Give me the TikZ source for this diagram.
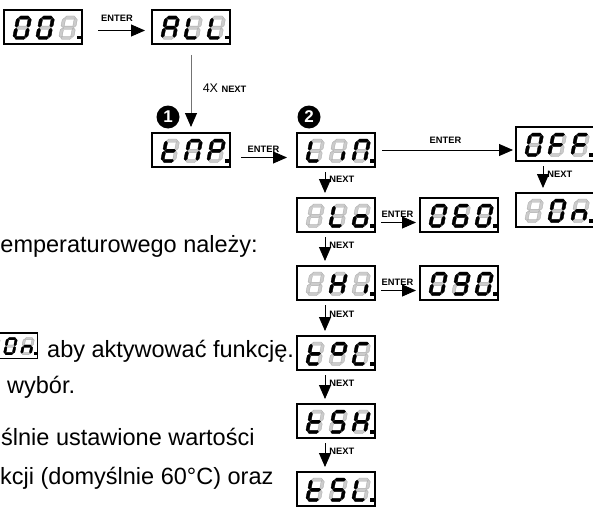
\documentclass[tikz,border=0pt]{standalone}
\usepackage{fontspec}
\setmainfont{Liberation Sans}
\usetikzlibrary{arrows.meta}

\definecolor{segdim}{gray}{0.8}
\definecolor{segrim}{gray}{0.65}

% segments of one digit, y runs down
\newcommand{\hsegpath}[1]{(2.1,#1) -- ++(1.6,-1.6) -- ++(7.6,0) -- ++(1.6,1.6) -- ++(-1.6,1.6) -- ++(-7.6,0) -- cycle}
\newcommand{\vsegpath}[2]{(#1,#2) -- ++(1.6,1.6) -- ++(0,5.95) -- ++(-1.6,1.6) -- ++(-1.6,-1.6) -- ++(0,-5.95) -- cycle}
\def\sega{\hsegpath{1.6}}
\def\segb{\vsegpath{13.4}{2.1}}
\def\segc{\vsegpath{13.4}{12.25}}
\def\segd{\hsegpath{21.9}}
\def\sege{\vsegpath{1.6}{12.25}}
\def\segf{\vsegpath{1.6}{2.1}}
\def\segg{\hsegpath{11.75}}
\def\segx{}

\newcommand{\lcddigit}[2]{%
  \begin{scope}[shift={(#1,6)}, xslant=0.2]
    \foreach \sg in {a,b,c,d,e,f,g}{\expandafter\let\expandafter\lcdseg\csname seg\sg\endcsname \filldraw[seg off] \lcdseg;}
    \foreach \sg in {#2}{\expandafter\let\expandafter\lcdseg\csname seg\sg\endcsname \filldraw[seg on] \lcdseg;}
  \end{scope}}

\newcommand{\lcdbox}[6][1]{%
  \begin{scope}[shift={#3}, scale=#1]
    \node[lcd frame, anchor=north west] (#2) at (0,0) {};
    \lcddigit{13}{#4}
    \lcddigit{36}{#5}
    \lcddigit{59}{#6}
    \fill (73,26) rectangle ++(3.5,3.5);
  \end{scope}}

\begin{document}
\begin{tikzpicture}[x=1pt, y=-1pt,
	lcd frame/.style={draw, line width=1.1pt, minimum width=78pt, minimum height=34pt, inner sep=0pt, outer sep=0pt, transform shape},
	seg off/.style={fill=segdim, draw=segrim, line width=0.3pt},
	seg on/.style={fill=black, draw=black, line width=0.3pt},
	key label/.style={inner sep=1pt, font=\bfseries\fontsize{9.3}{10}\selectfont},
	body text/.style={inner sep=0pt, font=\fontsize{23.5}{28}\selectfont},
	badge/.style={circle, fill=black, text=white, minimum size=23pt, inner sep=0pt, font=\bfseries\fontsize{17}{17}\selectfont},
	enter arrow/.style={line width=0.9pt, -{Triangle[length=14pt, width=12pt]}},
	next arrow/.style={line width=0.9pt, -{Triangle[length=14pt, width=12pt, black]}}]
	\useasboundingbox (0,0) rectangle (593,508);
	\clip (0,0) rectangle (593,508);

	\lcdbox{b001}{(4,10)}{a,b,c,d,e,f}{a,b,c,d,e,f}{x}
	\lcdbox{bALL}{(152,10)}{a,b,c,e,f,g}{d,e,f}{d,e,f}
	\lcdbox{btMP}{(152,133)}{d,e,f,g}{a,b,c,e,f}{a,b,e,f,g}
	\lcdbox{bLIn}{(297,133)}{d,e,f}{c}{a,b,c,e,f}
	\lcdbox{bOFF}{(516,127)}{a,b,c,d,e,f}{a,e,f,g}{a,e,f,g}
	\lcdbox{bOn}{(516,193)}{x}{a,b,c,d,e,f}{c,e,g}
	\lcdbox{bLo}{(297,198)}{x}{d,e,f}{c,d,e,g}
	\lcdbox{b060}{(420,198)}{a,b,c,d,e,f}{a,c,d,e,f,g}{a,b,c,d,e,f}
	\lcdbox{bHI}{(297,266)}{x}{b,c,e,f,g}{c}
	\lcdbox{b090}{(420,266)}{a,b,c,d,e,f}{a,b,c,d,f,g}{a,b,c,d,e,f}
	\lcdbox{btPC}{(297,336)}{d,e,f,g}{a,b,f,g}{a,d,e,f}
	\lcdbox{btSH}{(297,404)}{d,e,f,g}{a,c,d,f,g}{b,c,e,f,g}
	\lcdbox{btSL}{(297,472)}{d,e,f,g}{a,c,d,f,g}{d,e,f}
	\lcdbox[0.74]{bOnText}{(-20,333)}{x}{a,b,c,d,e,f}{c,e,g}

	\node[badge] (c1) at (168,117) {1};
	\node[badge] (c2) at (309,117) {2};

	\draw[enter arrow, shorten <=16pt, shorten >=7pt] ([yshift=-3.5pt]b001.east) -- node[key label, above=8pt] {ENTER} ([yshift=-3.5pt]bALL.west);
	\draw[next arrow, draw=black!55, shorten <=11pt, shorten >=6pt] (bALL.south) -- node[right=8pt] {\fontsize{12.5}{13}\selectfont 4X \bfseries\fontsize{9.3}{10}\selectfont NEXT} (btMP.north);
	\draw[enter arrow, shorten <=11pt, shorten >=10pt] ([yshift=-7.5pt]btMP.east) -- node[key label, above=4pt] {ENTER} ([yshift=-7.5pt]bLIn.west);
	\draw[enter arrow, shorten <=7pt, shorten >=3pt] (bLIn.east) -- node[key label, above=5pt] {ENTER} (bLIn.east -| bOFF.west);
	\draw[enter arrow, shorten <=6pt, shorten >=4pt] ([yshift=-7.5pt]bLo.east) -- node[key label, above=4pt] {ENTER} ([yshift=-7.5pt]b060.west);
	\draw[enter arrow, shorten <=6pt, shorten >=4pt] ([yshift=-7.5pt]bHI.east) -- node[key label, above=4pt] {ENTER} ([yshift=-7.5pt]b090.west);

	\draw[next arrow, shorten <=5pt, shorten >=5pt] ([xshift=-12pt]bOFF.south) -- node[key label, right=3pt, pos=0.4] {NEXT} ([xshift=-12pt]bOn.north);
	\draw[next arrow, shorten <=5pt, shorten >=5pt] ([xshift=-11pt]bLIn.south) -- node[key label, right=3pt, pos=0.4] {NEXT} ([xshift=-11pt]bLo.north);
	\draw[next arrow, shorten <=5pt, shorten >=5pt] ([xshift=-11pt]bLo.south) -- node[key label, right=3pt, pos=0.4] {NEXT} ([xshift=-11pt]bHI.north);
	\draw[next arrow, shorten <=5pt, shorten >=5pt] ([xshift=-11pt]bHI.south) -- node[key label, right=3pt, pos=0.4] {NEXT} ([xshift=-11pt]btPC.north);
	\draw[next arrow, shorten <=5pt, shorten >=5pt] ([xshift=-11pt]btPC.south) -- node[key label, right=3pt, pos=0.4] {NEXT} ([xshift=-11pt]btSH.north);
	\draw[next arrow, shorten <=5pt, shorten >=5pt] ([xshift=-11pt]btSH.south) -- node[key label, right=3pt, pos=0.4] {NEXT} ([xshift=-11pt]btSL.north);

	\node[body text, anchor=base east] (t1) at (258,252) {emperaturowego należy:};
	\node[body text, anchor=base west] (t2) at (47,357) {aby aktywować funkcję.};
	\node[body text, anchor=base west] (t3) at (7,393) {wybór.};
	\node[body text, anchor=base west] (t4) at (1,445) {ślnie ustawione wartości};
	\node[body text, anchor=base west] (t5) at (0,484) {kcji (domyślnie 60°C) oraz};
\end{tikzpicture}
\end{document}
